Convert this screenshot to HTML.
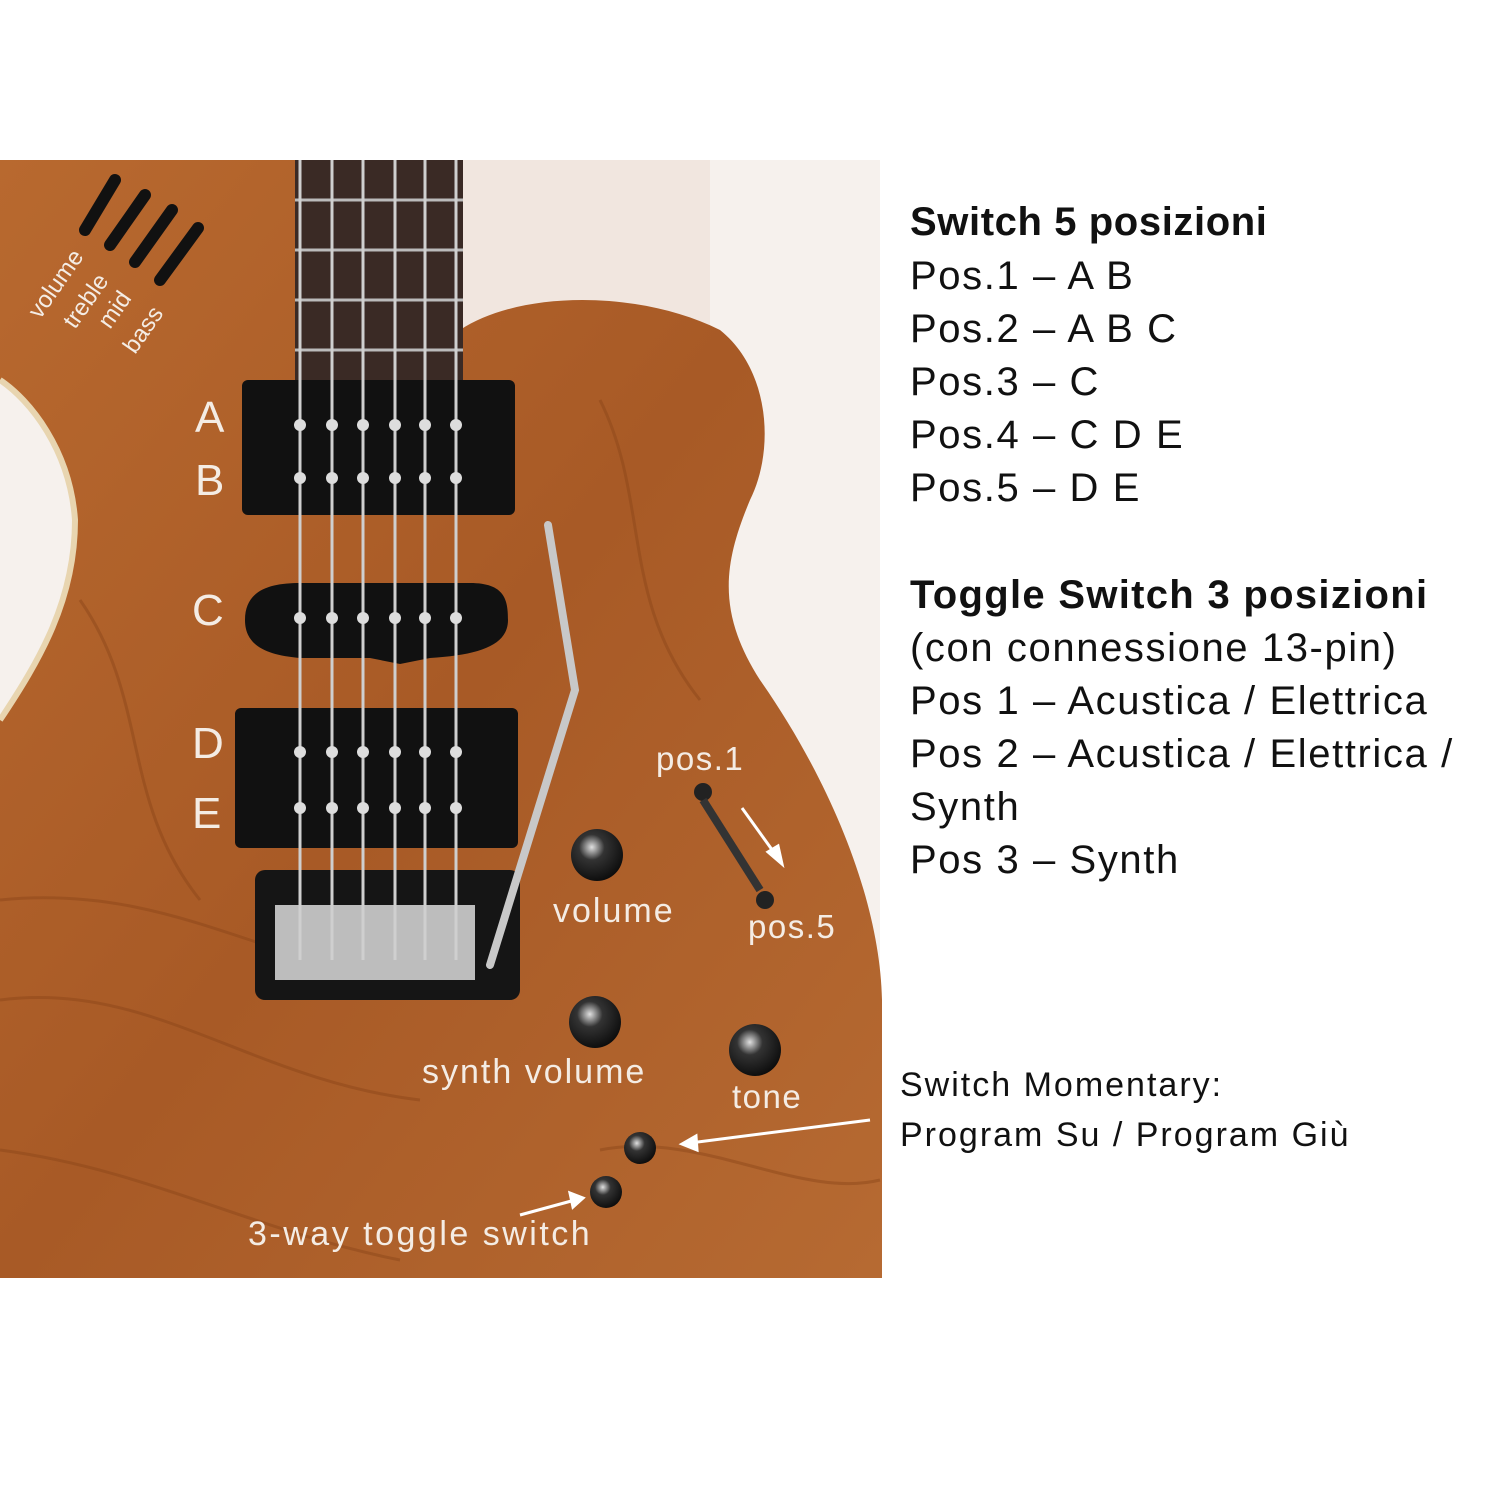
<!DOCTYPE html>
<html><head><meta charset="utf-8">
<style>
html,body{margin:0;padding:0;background:#fff;}
.wrap{position:relative;width:1500px;height:1500px;overflow:hidden;background:#fff;font-family:"Liberation Sans",sans-serif;}
.t{position:absolute;left:910px;color:#111;font-size:40px;white-space:nowrap;letter-spacing:1.6px}
.b{font-weight:bold;letter-spacing:0.6px}
</style></head><body>
<div class="wrap">
<svg width="1500" height="1500" style="position:absolute;left:0;top:0">
<defs>
<linearGradient id="wood" x1="0" y1="0" x2="1" y2="1">
<stop offset="0" stop-color="#b8692f"/><stop offset="0.5" stop-color="#a85a26"/><stop offset="1" stop-color="#b66a32"/>
</linearGradient>
<radialGradient id="knob" cx="0.4" cy="0.35" r="0.7">
<stop offset="0" stop-color="#e0e0e0"/><stop offset="0.35" stop-color="#333"/><stop offset="1" stop-color="#0a0a0a"/>
</radialGradient>
</defs>
<rect x="0" y="160" width="880" height="1118" fill="#f6f1ed"/>
<rect x="450" y="160" width="260" height="200" fill="#f1e6df"/>
<path d="M0,160 L300,160 L300,380 L460,380 L460,330 C520,290 640,290 720,330 C770,370 775,450 750,500 C725,560 715,610 760,680 C830,780 880,900 882,1000 L882,1278 L0,1278 L0,720 C40,660 75,600 75,520 C70,450 30,400 0,380 Z" fill="url(#wood)"/>
<path d="M0,380 C30,400 70,450 75,520 C75,600 40,660 0,720" fill="none" stroke="#e8d5b0" stroke-width="6"/>
<g stroke="#8a4418" stroke-width="3" fill="none" opacity="0.45">
<path d="M0,900 C200,880 300,1000 500,980"/><path d="M0,1000 C150,980 250,1080 420,1100"/>
<path d="M600,400 C650,500 620,600 700,700"/><path d="M80,600 C150,700 120,800 200,900"/>
<path d="M600,1150 C700,1130 800,1200 880,1180"/><path d="M0,1150 C150,1170 250,1230 400,1260"/>
</g>
<g stroke="#111" stroke-width="12" stroke-linecap="round">
<line x1="85" y1="230" x2="115" y2="180"/><line x1="110" y1="245" x2="145" y2="195"/>
<line x1="135" y1="262" x2="172" y2="210"/><line x1="160" y1="280" x2="198" y2="228"/>
</g>
<rect x="295" y="160" width="168" height="225" fill="#3a2a25"/>
<g stroke="#bbb" stroke-width="3"><line x1="295" y1="200" x2="463" y2="200"/><line x1="295" y1="250" x2="463" y2="250"/><line x1="295" y1="300" x2="463" y2="300"/><line x1="295" y1="350" x2="463" y2="350"/></g>
<rect x="242" y="380" width="273" height="135" rx="6" fill="#111"/>
<path d="M245,620 C245,590 270,583 300,583 L470,583 C505,583 508,600 508,620 C508,645 480,655 430,658 L400,664 L370,658 L300,658 C265,655 245,645 245,620Z" fill="#111"/>
<rect x="235" y="708" width="283" height="140" rx="6" fill="#111"/>
<rect x="255" y="870" width="265" height="130" rx="10" fill="#151515"/>
<rect x="275" y="905" width="200" height="75" fill="#bdbdbd"/>
<g stroke="#cfcfcf" stroke-width="3">
<line x1="300" y1="160" x2="300" y2="960"/><line x1="332" y1="160" x2="332" y2="960"/><line x1="363" y1="160" x2="363" y2="960"/>
<line x1="395" y1="160" x2="395" y2="960"/><line x1="425" y1="160" x2="425" y2="960"/><line x1="456" y1="160" x2="456" y2="960"/>
</g>
<g fill="#ddd"><circle cx="300" cy="425" r="6"/><circle cx="332" cy="425" r="6"/><circle cx="363" cy="425" r="6"/><circle cx="395" cy="425" r="6"/><circle cx="425" cy="425" r="6"/><circle cx="456" cy="425" r="6"/>
<circle cx="300" cy="478" r="6"/><circle cx="332" cy="478" r="6"/><circle cx="363" cy="478" r="6"/><circle cx="395" cy="478" r="6"/><circle cx="425" cy="478" r="6"/><circle cx="456" cy="478" r="6"/>
<circle cx="300" cy="618" r="6"/><circle cx="332" cy="618" r="6"/><circle cx="363" cy="618" r="6"/><circle cx="395" cy="618" r="6"/><circle cx="425" cy="618" r="6"/><circle cx="456" cy="618" r="6"/>
<circle cx="300" cy="752" r="6"/><circle cx="332" cy="752" r="6"/><circle cx="363" cy="752" r="6"/><circle cx="395" cy="752" r="6"/><circle cx="425" cy="752" r="6"/><circle cx="456" cy="752" r="6"/>
<circle cx="300" cy="808" r="6"/><circle cx="332" cy="808" r="6"/><circle cx="363" cy="808" r="6"/><circle cx="395" cy="808" r="6"/><circle cx="425" cy="808" r="6"/><circle cx="456" cy="808" r="6"/></g>
<polyline points="548,525 575,690 490,965" fill="none" stroke="#c8c8c8" stroke-width="8" stroke-linecap="round"/>
<circle cx="597" cy="855" r="26" fill="url(#knob)"/>
<circle cx="595" cy="1022" r="26" fill="url(#knob)"/>
<circle cx="755" cy="1050" r="26" fill="url(#knob)"/>
<circle cx="640" cy="1148" r="16" fill="url(#knob)"/>
<circle cx="606" cy="1192" r="16" fill="url(#knob)"/>
<circle cx="703" cy="792" r="9" fill="#222"/><circle cx="765" cy="900" r="9" fill="#222"/>
<line x1="703" y1="800" x2="760" y2="890" stroke="#333" stroke-width="8"/>
<g stroke="#fff" stroke-width="3" fill="#fff">
<line x1="742" y1="808" x2="778" y2="858"/><polygon points="782,864 768,852 778,846"/>
<line x1="870" y1="1120" x2="690" y2="1143"/><polygon points="682,1144 696,1136 697,1150"/>
<line x1="520" y1="1215" x2="575" y2="1200"/><polygon points="583,1198 570,1193 573,1207"/>
</g>
<g fill="#f4ece4" font-family="Liberation Sans, sans-serif">
<text x="195" y="432" font-size="44">A</text><text x="195" y="495" font-size="44">B</text>
<text x="192" y="625" font-size="44">C</text><text x="192" y="758" font-size="44">D</text>
<text x="192" y="828" font-size="44">E</text>
<text x="656" y="770" font-size="33" letter-spacing="1.5">pos.1</text>
<text x="553" y="922" font-size="34" letter-spacing="2">volume</text>
<text x="748" y="938" font-size="33" letter-spacing="1.5">pos.5</text>
<text x="422" y="1083" font-size="34" letter-spacing="2">synth volume</text>
<text x="732" y="1108" font-size="33" letter-spacing="1.5">tone</text>
<text x="248" y="1245" font-size="34" letter-spacing="2.5">3-way toggle switch</text>
<g font-size="24" transform="rotate(-55 40 320)"><text x="40" y="320">volume</text></g>
<g font-size="24" transform="rotate(-55 75 330)"><text x="75" y="330">treble</text></g>
<g font-size="24" transform="rotate(-55 110 330)"><text x="110" y="330">mid</text></g>
<g font-size="24" transform="rotate(-55 135 355)"><text x="135" y="355">bass</text></g>
</g>
</svg>
<div class="t b" style="top:200px">Switch 5 posizioni</div>
<div class="t" style="top:254px">Pos.1 – A B</div>
<div class="t" style="top:307px">Pos.2 – A B C</div>
<div class="t" style="top:360px">Pos.3 – C</div>
<div class="t" style="top:413px">Pos.4 – C D E</div>
<div class="t" style="top:466px">Pos.5 – D E</div>
<div class="t b" style="top:573px;letter-spacing:1.3px">Toggle Switch 3 posizioni</div>
<div class="t" style="top:626px">(con connessione 13-pin)</div>
<div class="t" style="top:679px">Pos 1 – Acustica / Elettrica</div>
<div class="t" style="top:732px">Pos 2 – Acustica / Elettrica /</div>
<div class="t" style="top:785px">Synth</div>
<div class="t" style="top:838px">Pos 3 – Synth</div>
<div class="t" style="top:1066px;left:900px;font-size:34px;letter-spacing:2px">Switch Momentary:</div>
<div class="t" style="top:1116px;left:900px;font-size:34px;letter-spacing:2px">Program Su / Program Giù</div>
</div>
</body></html>
